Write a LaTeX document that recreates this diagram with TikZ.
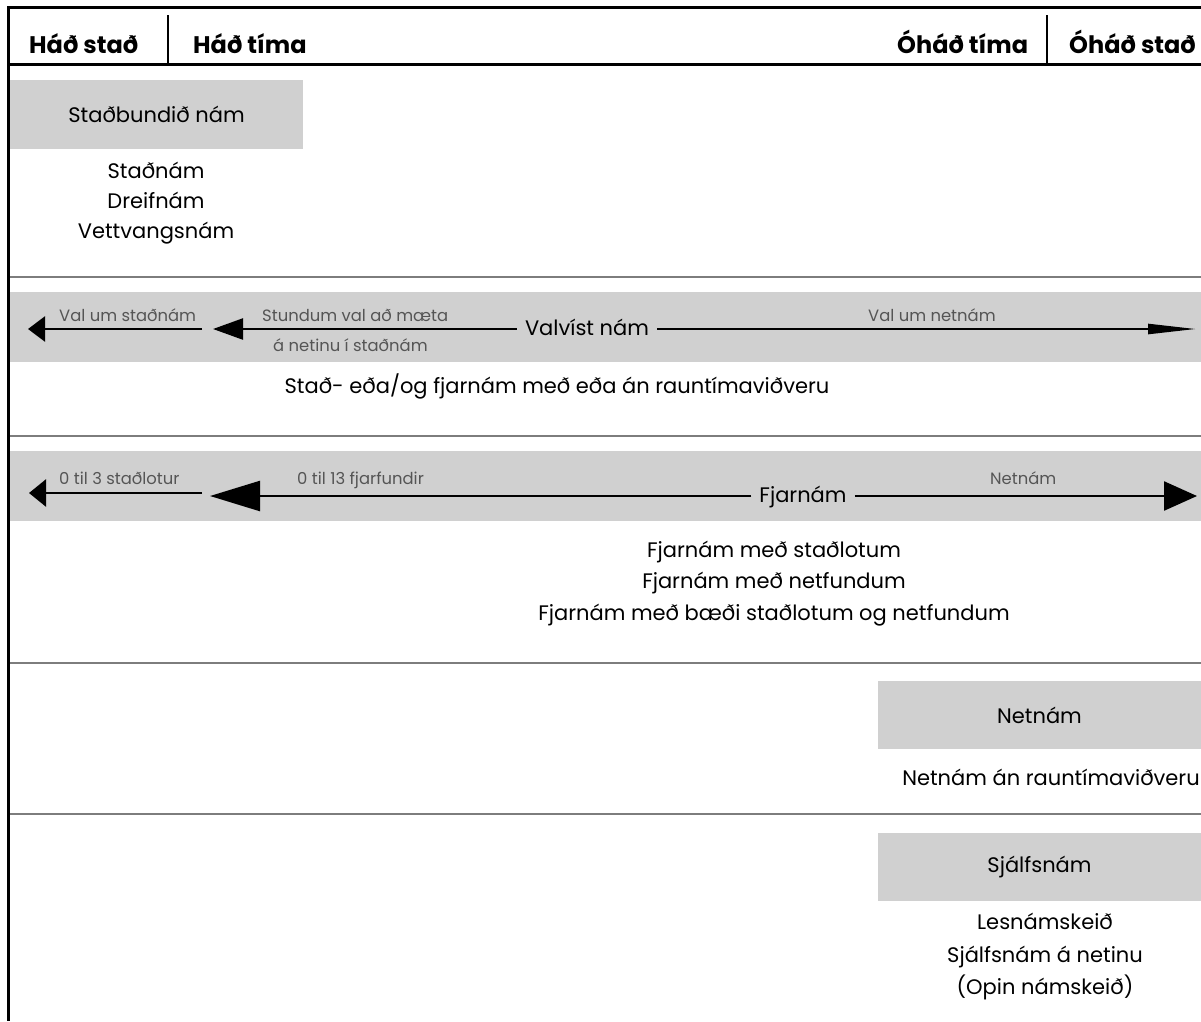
\documentclass[tikz,border=0pt]{standalone}
\usepackage{fontspec}
\setmainfont{Poppins}
\usetikzlibrary{positioning, arrows.meta, calc}

\definecolor{bandgray}{RGB}{208,208,208}
\definecolor{rulegray}{RGB}{125,125,125}
\definecolor{labelgray}{RGB}{85,85,85}

\tikzset{
    head/.style={font=\fontsize{24}{28}\selectfont\bfseries, inner sep=0, anchor=base west},
    body/.style={font=\fontsize{21}{25}\selectfont, inner sep=0},
    tag/.style={font=\fontsize{16.4}{20}\selectfont, text=labelgray, inner sep=0, anchor=base west},
    panel/.style={body, fill=bandgray},
    mid/.style={body, inner xsep=8pt, inner ysep=0, text height=16pt, text depth=4pt},
    rule/.style={rulegray, line width=1.6pt},
    shaft/.style={black, line width=2.4pt}
}

\begin{document}
\begin{tikzpicture}[x=1pt, y=-1pt]
    \useasboundingbox (0,0) rectangle (1201,1021);

    % frame and header
    \draw[black, line width=3pt] (1201,7) -- (8,7) -- (8,1021);
    \draw[black, line width=3pt] (8,64) -- (1201,64);
    \draw[black, line width=2pt] (168,15) -- (168,64);
    \draw[black, line width=2pt] (1047,15) -- (1047,64);

    \node[head] (hadstad) at (29,53) {Háð stað};
    \node[head] (hadtima) at (193,53) {Háð tíma};
    \node[head] (ohadtima) at (897,53) {Óháð tíma};
    \node[head] (ohadstad) at (1069,53) {Óháð stað};

    % separators
    \foreach \y in {277,436,663,814}
    {
        \draw[rule] (10,\y) -- (1201,\y);
    }

    % bands
    \fill[bandgray] (10,292) rectangle (1201,362);
    \fill[bandgray] (10,451) rectangle (1201,521);

    % staðbundið nám
    \node[panel, minimum width=293pt, minimum height=69pt] (stadbundid) at (156.5,114.5) {Staðbundið nám};
    \foreach \t/\yy [count=\i] in {Staðnám/178, Dreifnám/208, Vettvangsnám/238}
    {
        \node[body, anchor=base] (stad\i) at (156,\yy) {\t};
    }

    % valvíst nám
    \node[mid] (valvist) at (587,329) {Valvíst nám};
    \coordinate (v1s) at (202,329);
    \coordinate (v1e) at (28,329);
    \coordinate (v2e) at (213,329);
    \coordinate (v3e) at (1196,329);

    \draw[shaft, -{Triangle[length=17pt,width=25pt]}] (v1s) -- (v1e);
    \draw[shaft, -{Triangle[length=30pt,width=21pt]}] (valvist.west) -- (v2e);
    \draw[shaft, -{Triangle[length=48pt,width=10pt]}] (valvist.east) -- (v3e);

    \node[tag] (valstad) at (59,321) {Val um staðnám};
    \node[tag] (stundum) at (262,321) {Stundum val að mæta};
    \node[tag] (anetinu) at (273,351) {á netinu í staðnám};
    \node[tag] (valnet) at (868,321) {Val um netnám};

    \node[body, anchor=base] (stadfjar) at (557,393) {Stað- eða/og fjarnám með eða án rauntímaviðveru};

    % fjarnám
    \node[mid] (fjarnam) at (803,496) {Fjarnám};
    \coordinate (f1s) at (202,493);
    \coordinate (f1e) at (29,493);
    \coordinate (f2e) at (210,496);
    \coordinate (f3e) at (1197,496);

    \draw[shaft, -{Triangle[length=17pt,width=27pt]}] (f1s) -- (f1e);
    \draw[shaft, -{Triangle[length=50pt,width=30pt]}] (fjarnam.west) -- (f2e);
    \draw[shaft, -{Triangle[length=33pt,width=29pt]}] (fjarnam.east) -- (f3e);

    \node[tag] (stadlotur) at (59,484) {0 til 3 staðlotur};
    \node[tag] (fjarfundir) at (297,484) {0 til 13 fjarfundir};
    \node[tag] (netlbl) at (990,484) {Netnám};

    \foreach \t/\yy [count=\i] in {Fjarnám með staðlotum/557, Fjarnám með netfundum/588, Fjarnám með bæði staðlotum og netfundum/620}
    {
        \node[body, anchor=base] (fjar\i) at (774,\yy) {\t};
    }

    % netnám
    \node[panel, minimum width=323pt, minimum height=68pt] (netnam) at (1039.5,715) {Netnám};
    \node[body, anchor=base] (netnaman) at (1051,785) {Netnám án rauntímaviðveru};

    % sjálfsnám
    \node[panel, minimum width=323pt, minimum height=68pt] (sjalfs) at (1039.5,867) {Sjálfsnám};
    \foreach \t/\yy [count=\i] in {Lesnámskeið/929, Sjálfsnám á netinu/962, (Opin námskeið)/994}
    {
        \node[body, anchor=base] (sjalf\i) at (1045,\yy) {\t};
    }
\end{tikzpicture}
\end{document}
